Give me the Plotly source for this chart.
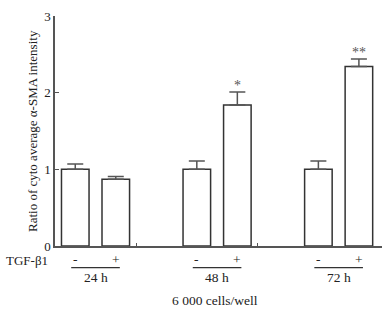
import plotly.graph_objects as go

groups = ["24 h", "48 h", "72 h"]
treat = ["-", "+"]
values = [1.00, 0.87, 1.00, 1.84, 1.00, 2.34]
errors = [0.07, 0.035, 0.11, 0.17, 0.11, 0.10]
signif = ["", "", "", "*", "", "**"]
yticks = [0, 1, 2, 3]
xlabel_title = "6 000 cells/well"
factor_label = "TGF-β1"
ytitle = "Ratio of cyto average α-SMA intensity"

FONT = "Liberation Serif"
TXT = "#222222"
xpos = [3 * g + i for g in range(len(groups)) for i in range(len(treat))]

fig = go.Figure()
fig.add_trace(go.Bar(
    x=xpos, y=values, width=0.68,
    marker=dict(color="white", line=dict(color="#333333", width=1.5)),
    error_y=dict(type="data", array=errors, arrayminus=[0] * len(errors),
                 symmetric=False, color="#555555", thickness=1.5, width=8),
    showlegend=False, hoverinfo="skip",
))

annotations = []
for x, v, e, s in zip(xpos, values, errors, signif):
    if s:
        annotations.append(dict(x=x, y=v + e, xref="x", yref="y", text=s,
                                showarrow=False, yanchor="bottom", yshift=-3,
                                font=dict(family=FONT, size=14, color="#555555")))
for i, x in enumerate(xpos):
    annotations.append(dict(x=x, y=-0.058, xref="x", yref="paper", text=treat[i % 2],
                            showarrow=False, yanchor="middle",
                            font=dict(family=FONT, size=13.5, color=TXT)))
shapes = []
for g, name in enumerate(groups):
    c = 3 * g + 0.5
    annotations.append(dict(x=c, y=-0.136, xref="x", yref="paper", text=name,
                            showarrow=False, yanchor="middle",
                            font=dict(family=FONT, size=13.5, color=TXT)))
    shapes.append(dict(type="line", xref="x", yref="paper", x0=c - 0.6, x1=c + 0.6,
                       y0=-0.094, y1=-0.094, line=dict(color="#333333", width=1.2)))
annotations.append(dict(x=-0.086, y=-0.062, xref="paper", yref="paper", text=factor_label,
                        showarrow=False, xanchor="center", yanchor="middle",
                        font=dict(family=FONT, size=13, color=TXT)))
annotations.append(dict(x=0.49, y=-0.235, xref="paper", yref="paper", text=xlabel_title,
                        showarrow=False, yanchor="middle",
                        font=dict(family=FONT, size=13.5, color=TXT)))
annotations.append(dict(x=-0.0703, y=0.5, xref="paper", yref="paper", text=ytitle,
                        showarrow=False, textangle=-90, xanchor="center", yanchor="middle",
                        font=dict(family=FONT, size=13, color=TXT)))

fig.update_layout(
    width=391, height=312,
    margin=dict(l=55, r=9, t=15.5, b=65.5),
    plot_bgcolor="white", paper_bgcolor="white",
    font=dict(family=FONT, size=13, color=TXT),
    annotations=annotations, shapes=shapes,
    xaxis=dict(range=[-0.5, 7.57], tickvals=[1.5, 4.5], ticktext=["", ""],
               ticks="inside", ticklen=3, tickcolor="#555555", tickwidth=1.2,
               showline=True, linecolor="#555555", linewidth=1.5,
               showgrid=False, zeroline=False, automargin=False),
    yaxis=dict(range=[0, 3], tickvals=yticks, ticks="inside", ticklen=4,
               tickcolor="#555555", tickwidth=1.2,
               showline=True, linecolor="#555555", linewidth=1.5,
               showgrid=False, zeroline=False, automargin=False,
               tickfont=dict(family=FONT, size=13, color=TXT)),
)
fig.write_html("out.html", config={"displayModeBar": False},
               post_script="document.body.style.margin='0';document.body.style.overflow='hidden';")
